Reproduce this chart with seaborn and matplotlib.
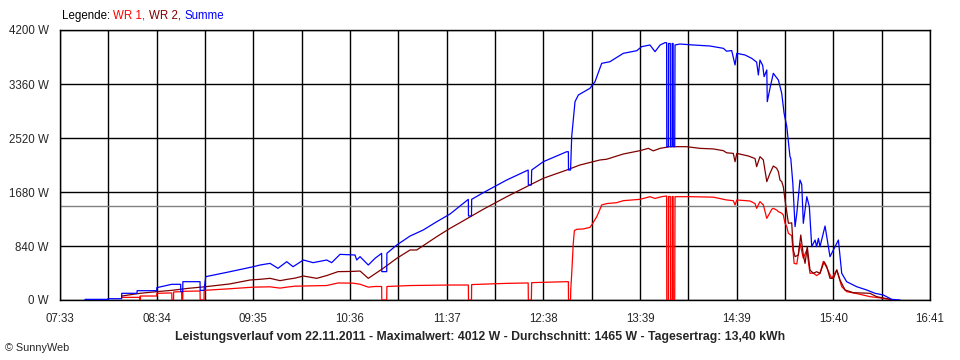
import matplotlib
matplotlib.use("Agg")
import matplotlib.pyplot as plt
import seaborn as sns
import numpy as np
import pandas as pd

# ---------------- data (minutes since midnight, watts) ----------------
wr1_t = [491.9, 503.2, 503.3, 503.5, 513.9, 514.0, 523.4, 523.5, 524.5, 524.6, 529.6,
         529.7, 530.3, 530.4, 541.2, 541.3, 543.7, 543.8, 560.0, 574.8, 585.3, 591.6,
         595.8, 601.0, 621.0, 628.1, 637.6, 642.0, 647.2, 651.4, 655.6, 655.7, 658.8,
         658.9, 673.5, 698.7, 710.2, 710.3, 712.2, 712.3, 734.4, 747.9, 748.0, 749.9,
         750.1, 772.2, 773.2, 773.3, 774.6, 774.7, 775.3, 776.3, 777.0, 778.5, 782.6,
         786.8, 787.9, 791.1, 793.1, 794.2, 797.4, 803.7, 807.8, 818.3, 824.6, 827.8,
         832.0, 835.1, 835.2, 836.2, 836.3, 837.4, 837.5, 838.5, 838.6, 839.2, 839.3,
         840.2, 840.4, 849.8, 864.5, 872.9, 877.1, 878.2, 879.3, 887.6, 890.8, 891.8,
         893.9, 896.0, 898.2, 900.2, 901.3, 902.3, 904.4, 905.5, 907.6, 908.6, 909.7,
         910.8, 911.8, 913.9, 915.4, 917.1, 919.1, 921.2, 923.4, 925.4, 927.5, 929.6,
         931.7, 933.8, 936.0, 939.1, 942.3, 945.4, 948.5, 954.8, 963.2, 967.4, 975.8,
         977.0]
wr1_w = [41, 41, 0, 62, 62, 104, 110, 0, 0, 125, 130,
         0, 0, 135, 140, 0, 0, 150, 175, 200, 205, 185,
         200, 215, 225, 265, 262, 245, 200, 210, 210, 0, 0,
         210, 225, 233, 233, 0, 0, 240, 259, 265, 0, 0,
         270, 285, 285, 0, 0, 150, 400, 880, 1080, 1100, 1105,
         1130, 1167, 1296, 1411, 1478, 1500, 1514, 1545, 1566, 1607, 1580,
         1607, 1618, 0, 0, 1610, 1610, 0, 0, 1610, 1610, 0,
         0, 1607, 1607, 1600, 1556, 1545, 1478, 1556, 1540, 1500, 1426,
         1530, 1480, 1270, 1359, 1411, 1426, 1400, 1374, 1350, 1322, 1193,
         1141, 1037, 1000, 570, 560, 882, 650, 780, 415, 420, 380,
         415, 600, 500, 337, 467, 207, 130, 100, 52, 40, 10,
         0]

wr2_t = [491.9, 503.4, 513.9, 523.4, 533.6, 544.8, 560.0, 572.7, 579.0, 585.3, 591.6,
         595.8, 601.0, 606.3, 614.7, 621.0, 628.1, 637.6, 642.0, 647.2, 656.6, 665.1,
         673.5, 677.7, 690.3, 698.7, 705.0, 719.6, 734.4, 746.9, 757.4, 772.2, 780.5,
         793.1, 797.4, 807.8, 818.3, 823.6, 826.7, 831.0, 837.2, 847.7, 856.1, 864.5,
         870.8, 872.9, 877.1, 878.2, 879.3, 886.6, 890.8, 891.8, 893.9, 896.0, 898.2,
         900.2, 902.3, 904.4, 905.5, 906.5, 907.6, 908.6, 909.7, 911.8, 913.9, 914.9,
         916.0, 918.1, 919.6, 921.2, 922.3, 923.7, 925.4, 927.5, 929.6, 931.7, 934.3,
         936.0, 938.0, 940.2, 942.3, 944.3, 947.5, 952.7, 963.2, 967.4, 975.8, 977.0]
wr2_w = [62, 104, 130, 150, 181, 207, 250, 311, 322, 337, 301,
         320, 340, 373, 337, 380, 441, 445, 451, 337, 493, 648,
         778, 778, 985, 1115, 1203, 1411, 1607, 1763, 1893, 2022, 2100,
         2178, 2190, 2271, 2323, 2359, 2320, 2359, 2385, 2385, 2359, 2350,
         2323, 2290, 2281, 2151, 2281, 2240, 2200, 2074, 2229, 2180, 1841,
         1971, 2084, 2050, 1996, 1867, 1841, 1763, 1556, 1193, 1200, 778,
         674, 700, 1011, 700, 570, 830, 467, 415, 440, 415, 596,
         520, 337, 337, 467, 311, 156, 114, 104, 52, 10, 0]

summe_t = [468.7, 483.2, 483.3, 491.8, 491.9, 501.5, 501.6, 513.9, 514.0, 523.4, 529.0,
           529.1, 530.3, 530.4, 541.2, 541.3, 543.7, 544.8, 560.0, 574.8, 579.0, 585.3,
           590.3, 595.8, 599.8, 606.3, 612.4, 621.0, 624.1, 629.4, 638.8, 639.9, 642.0,
           647.2, 651.4, 655.6, 655.7, 658.8, 658.9, 665.1, 673.5, 681.8, 690.3, 698.7,
           705.0, 710.2, 710.3, 712.2, 712.3, 719.6, 734.4, 747.9, 748.0, 749.9, 750.1,
           757.4, 772.2, 773.2, 773.3, 774.6, 775.3, 777.4, 779.5, 786.8, 790.0, 794.2,
           799.4, 807.8, 816.3, 819.4, 824.6, 827.8, 831.0, 834.1, 835.1, 835.2, 836.2,
           836.3, 837.4, 837.5, 838.5, 838.6, 839.2, 839.3, 840.2, 840.4, 843.5, 851.7,
           862.4, 870.8, 872.9, 876.1, 878.2, 879.3, 884.5, 888.7, 891.8, 892.9, 893.9,
           895.6, 896.5, 898.2, 898.5, 900.2, 902.3, 905.5, 907.6, 909.1, 910.8, 912.8,
           913.3, 914.6, 916.0, 917.1, 919.1, 920.2, 921.2, 923.4, 925.0, 926.5, 928.6,
           929.6, 930.7, 931.7, 934.9, 937.0, 938.0, 941.2, 943.3, 945.4, 948.5, 954.8,
           961.1, 966.4, 971.6, 976.9, 982.1]
summe_w = [10, 10, 20, 20, 104, 104, 145, 145, 192, 244, 244,
           130, 130, 285, 285, 150, 150, 363, 440, 518, 544, 570,
           493, 596, 518, 622, 581, 622, 581, 710, 700, 622, 674,
           544, 648, 726, 441, 441, 726, 855, 995, 1089, 1218, 1338,
           1462, 1566, 1307, 1307, 1566, 1669, 1867, 2022, 1789, 1789, 2022,
           2151, 2307, 2307, 2022, 2022, 2540, 3085, 3189, 3293, 3396, 3681,
           3707, 3837, 3878, 3941, 3967, 3863, 3967, 4003, 4003, 2385, 2385,
           3990, 3990, 2385, 2385, 3990, 3990, 2385, 2385, 3967, 3982, 3967,
           3951, 3915, 3870, 3880, 3656, 3837, 3811, 3759, 3700, 3500, 3733,
           3650, 3474, 3578, 3085, 3293, 3526, 3422, 3215, 2904, 2696, 2229,
           2204, 1815, 1141, 1348, 1867, 1800, 1193, 1607, 1452, 830, 933,
           830, 959, 830, 1151, 830, 674, 830, 933, 415, 285, 207,
           156, 104, 78, 10, 0]

series_names = ["WR 1", "WR 2", "Summe"]
durchschnitt = 1465
y_ticks = [0, 840, 1680, 2520, 3360, 4200]
x_start, x_end = 453, 1001  # 07:33 .. 16:41
x_labels = ["07:33", "08:34", "09:35", "10:36", "11:37", "12:38", "13:39",
            "14:39", "15:40", "16:41"]
title_text = ("Leistungsverlauf vom 22.11.2011 - Maximalwert: 4012 W - "
              "Durchschnitt: 1465 W - Tagesertrag: 13,40 kWh")

sns.set_style("white")
plt.rcParams["font.family"] = ["Liberation Sans", "DejaVu Sans"]
plt.rcParams["font.size"] = 8

colors = {"WR 1": "#FF0000", "WR 2": "#800000", "Summe": "#0000FF"}

fig = plt.figure(figsize=(9.6, 3.6), dpi=100)
ax = fig.add_axes([60 / 960, 1 - 300 / 360, 870 / 960, 270 / 360])

major = np.linspace(x_start, x_end, 10)
minor = np.linspace(x_start, x_end, 19)
ax.set_xlim(x_start, x_end)
ax.set_ylim(0, 4200)
ax.set_xticks(major)
ax.set_xticklabels(x_labels)
ax.set_xticks(minor, minor=True)
ax.set_yticks(y_ticks)
ax.set_yticklabels([f"{v} W" for v in y_ticks])
for xv in minor:
    ax.axvline(xv, color="black", lw=1.0, zorder=1)
for yv in y_ticks:
    ax.axhline(yv, color="black", lw=1.0, zorder=1)
ax.axhline(durchschnitt, color="#808080", lw=1.0, zorder=1.5)

for name, tt, ww in [(series_names[0], wr1_t, wr1_w),
                     (series_names[1], wr2_t, wr2_w),
                     (series_names[2], summe_t, summe_w)]:
    sub = pd.DataFrame({"t": tt, "w": ww})
    sns.lineplot(data=sub, x="t", y="w", estimator=None, sort=False, color=colors[name],
                 lw=0.9, ax=ax, zorder=3)

ax.set_xlabel("")
ax.set_ylabel("")
for sp in ax.spines.values():
    sp.set_visible(True)
    sp.set_color("black")
    sp.set_linewidth(1.0)
ax.tick_params(axis="both", which="both", direction="out", length=5, width=1,
               color="black", labelsize=8.3, pad=3)
ax.tick_params(axis="x", pad=4)

# legend text pieces
fig.canvas.draw()
renderer = fig.canvas.get_renderer()
pieces = [("Legende: ", "black"), ("WR 1, ", "#FF0000"), ("WR 2, ", "#800000"), ("Summe", "#0000FF")]
xpix = 62
for txt, col in pieces:
    t = fig.text(xpix / 960, 1 - 16 / 360, txt, color=col, fontsize=8.3, va="center", ha="left")
    bb = t.get_window_extent(renderer=renderer)
    xpix += bb.width

fig.text(480 / 960, 1 - 337 / 360, title_text, fontsize=8.8, fontweight="bold",
         ha="center", va="center")
fig.text(5 / 960, 1 - 348 / 360, "© SunnyWeb", fontsize=7.8, ha="left", va="center")

fig.savefig("out.png", dpi=100, facecolor="white")
